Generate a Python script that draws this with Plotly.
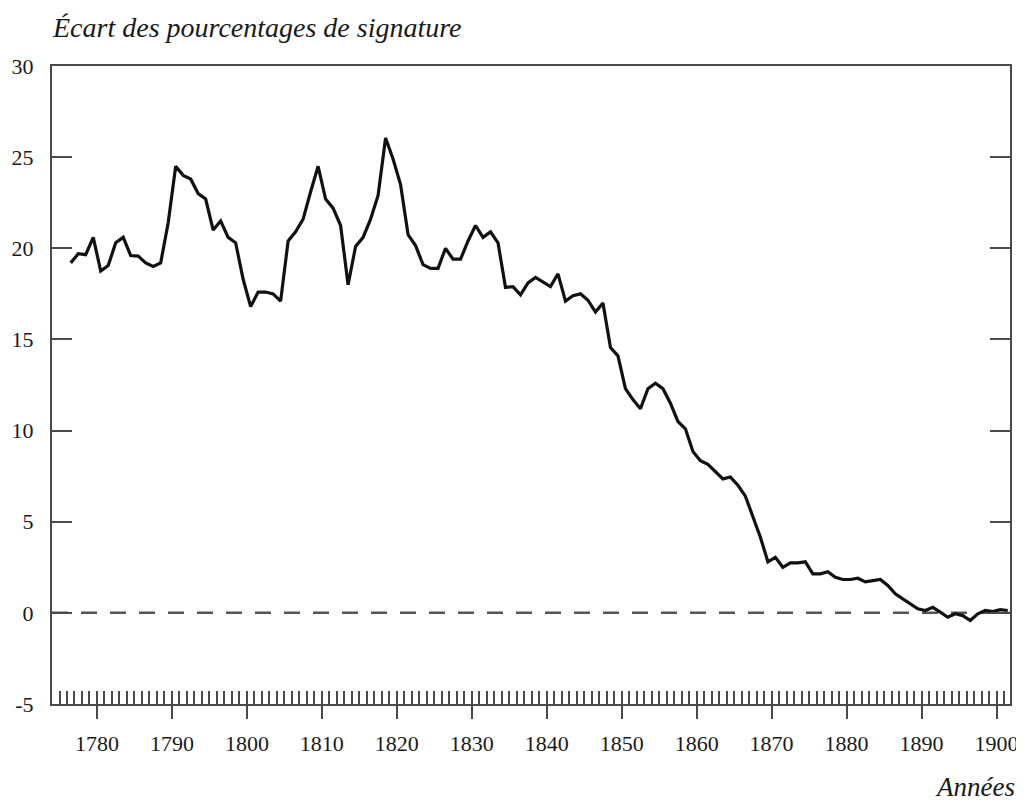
import plotly.graph_objects as go

first_year = 1776
values = [
    19.2, 19.7, 19.65, 20.6, 18.75, 19.06, 20.3, 20.6, 19.6, 19.57,   # 1776-1785
    19.2, 19.0, 19.2, 21.4, 24.5, 24.0, 23.8, 23.0, 22.7, 21.0,       # 1786-1795
    21.5, 20.6, 20.3, 18.3, 16.8, 17.6, 17.6, 17.5, 17.1, 20.4,       # 1796-1805
    20.9, 21.6, 23.1, 24.5, 22.7, 22.2, 21.25, 18.0, 20.1, 20.6,      # 1806-1815
    21.6, 22.9, 26.05, 24.9, 23.5, 20.75, 20.15, 19.1, 18.9, 18.9,    # 1816-1825
    20.0, 19.4, 19.4, 20.4, 21.25, 20.6, 20.9, 20.3, 17.85, 17.9,     # 1826-1835
    17.45, 18.1, 18.4, 18.15, 17.9, 18.6, 17.1, 17.4, 17.5, 17.15,    # 1836-1845
    16.5, 17.0, 14.55, 14.1, 12.3, 11.7, 11.2, 12.3, 12.6, 12.3,      # 1846-1855
    11.5, 10.5, 10.1, 8.85, 8.35, 8.15, 7.75, 7.35, 7.45, 7.0,        # 1856-1865
    6.4, 5.3, 4.15, 2.8, 3.05, 2.5, 2.74, 2.74, 2.8, 2.14,            # 1866-1875
    2.14, 2.26, 1.95, 1.83, 1.83, 1.9, 1.7, 1.77, 1.83, 1.5,          # 1876-1885
    1.04, 0.77, 0.5, 0.22, 0.13, 0.3, 0.04, -0.24, -0.05, -0.15,      # 1886-1895
    -0.42, -0.05, 0.13, 0.07, 0.18, 0.13,                             # 1896-1901
]
years = [first_year + i for i in range(len(values))]
decade_ticks = list(range(1780, 1901, 10))
y_ticks = [-5, 0, 5, 10, 15, 20, 25, 30]
y_tick_labels = ["-5", "0", "5", "10", "15", "20", "25", "30"]

title_text = "Écart des pourcentages de signature"
x_title_text = "Années"

FONT = "Liberation Serif, Times New Roman, serif"
AXIS_COLOR = "#4a4a4a"
TEXT_COLOR = "#1a1a1a"
x_range = [1774, 1901.8]

# annual values plotted at mid-year
x_vals = [y + 0.5 for y in years]

fig = go.Figure()
fig.add_trace(go.Scatter(
    x=x_vals, y=values, mode="lines",
    line=dict(color="#111111", width=3.2),
    showlegend=False, hoverinfo="skip",
))
fig.add_trace(go.Scatter(x=[x_range[0]], y=[None], xaxis="x2", showlegend=False,
                         mode="lines", hoverinfo="skip"))

fig.add_shape(type="line", xref="paper", yref="y", x0=0, x1=1, y0=0, y1=0,
              line=dict(color="#555555", width=2.5, dash="16px,13px"), layer="below")

fig.update_layout(
    width=1016, height=793,
    margin=dict(l=44, r=14, t=58, b=97, autoexpand=False),
    paper_bgcolor="white", plot_bgcolor="white",
    font=dict(family=FONT, size=22, color=TEXT_COLOR),
    xaxis=dict(
        range=x_range, showgrid=False, zeroline=False, automargin=False,
        showline=True, linecolor=AXIS_COLOR, linewidth=2, mirror=True,
        tickvals=decade_ticks, ticks="inside", ticklen=13, tickwidth=2,
        tickcolor=AXIS_COLOR, showticklabels=False,
        minor=dict(dtick=1, tick0=1774, ticks="inside", ticklen=13,
                   tickwidth=1.5, tickcolor=AXIS_COLOR, showgrid=False),
    ),
    xaxis2=dict(
        range=x_range, overlaying="x", side="bottom", showgrid=False,
        zeroline=False, showline=False, automargin=False,
        tickvals=decade_ticks, ticktext=[str(t) for t in decade_ticks],
        ticks="outside", ticklen=14, tickwidth=2, tickcolor=AXIS_COLOR,
        tickfont=dict(family=FONT, size=22, color=TEXT_COLOR),
        ticklabelstandoff=6,
    ),
    yaxis=dict(
        range=[-5, 30], showgrid=False, zeroline=False, automargin=False,
        showline=True, linecolor=AXIS_COLOR, linewidth=2, mirror="ticks",
        tickvals=y_ticks, ticktext=y_tick_labels, ticks="inside", ticklen=20,
        tickwidth=2, tickcolor=AXIS_COLOR,
        tickfont=dict(family=FONT, size=22, color=TEXT_COLOR),
        ticklabelstandoff=12,
    ),
    annotations=[
        dict(text="<i>" + title_text + "</i>", xref="paper", yref="paper",
             x=-0.002, y=1.06, xanchor="left", yanchor="middle",
             showarrow=False, font=dict(family=FONT, size=28, color=TEXT_COLOR)),
        dict(text="<i>" + x_title_text + "</i>", xref="paper", yref="paper",
             x=1.007, y=-0.13, xanchor="right", yanchor="middle",
             showarrow=False, font=dict(family=FONT, size=27, color=TEXT_COLOR)),
    ],
)

fig.write_html("out.html")
